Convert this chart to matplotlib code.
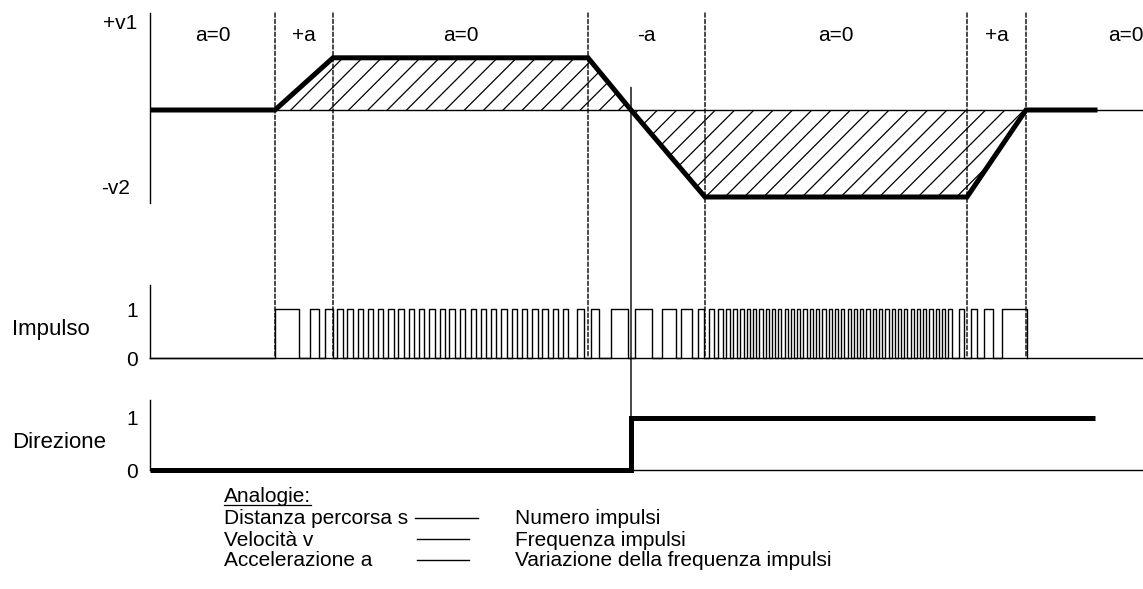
import numpy as np
import matplotlib.pyplot as plt
from matplotlib.patches import ConnectionPatch
from matplotlib.lines import Line2D
from matplotlib.collections import LineCollection

plt.rcParams['font.family'] = ['Liberation Sans', 'DejaVu Sans']

W, H = 1143, 589

# velocity profile (time axis in arbitrary units)
t_prof = [0, 125, 183, 438, 481, 555, 817, 876, 945]
v_prof = [0, 0, 0.6, 0.6, 0, -1.0, -1.0, 0, 0]

# boundaries between the acceleration phases
t_phase = [125, 183, 438, 555, 817, 876]
phase_labels = ['a=0', '+a', 'a=0', '-a', 'a=0', '+a', 'a=0']
t_reverse = 481

# pulse train: rising / falling edges
imp_on = [125, 159.7, 175,
          187.3, 197.3, 207.7, 218, 228, 238.3, 248.3, 258.7, 269, 279.3, 289.7,
          299.3, 310, 320.7, 330.7, 341, 351.3, 361.7, 372, 382.3, 392.3, 402.7, 413,
          427.3, 440.7, 460.7, 484.7, 511.7, 531, 548.3, 559.3, 568.3, 576, 583.3, 590,
          596.7, 603, 609.3, 615.6, 621.9, 628.2, 634.5, 640.8, 647.1, 653.4, 659.7,
          666, 672.3, 678.6, 684.9, 691.2, 697.5, 703.8, 710.1, 716.4, 722.7, 729,
          735.3, 741.6, 747.9, 754.2, 760.5, 766.8, 773.1, 779.4, 785.7, 792, 798.3,
          809.3, 820.7, 833.7, 852.3]
imp_off = [149, 168.7, 182.7,
           192.5, 202.5, 212.9, 223.2, 233.2, 243.5, 253.5, 263.9, 274.2, 284.5, 294.9,
           304.5, 315.2, 325.9, 335.9, 346.2, 356.5, 366.9, 377.2, 387.5, 397.5, 407.9, 418.2,
           434, 449.3, 477.7, 501.7, 525.7, 541.7, 554, 564.3, 573.3, 580, 587.3, 593.5,
           599.9, 606.2, 612.5, 618.8, 625.1, 631.4, 637.7, 644, 650.3, 656.6, 662.9,
           669.2, 675.5, 681.8, 688.1, 694.4, 700.7, 707, 713.3, 719.6, 725.9, 732.2,
           738.5, 744.8, 751.1, 757.4, 763.7, 770, 776.3, 782.6, 788.9, 795.2, 801.5,
           814, 826.7, 842.7, 876.7]

# direction signal
dir_t = [0, 481, 481, 945]
dir_v = [0, 0, 1, 1]

analogies_left = ['Distanza percorsa s', 'Velocità v', 'Accelerazione a']
analogies_right = ['Numero impulsi', 'Frequenza impulsi',
                   'Variazione della frequenza impulsi']

T_MAX = 993
THIN = 1.0
THICK = 3.6
HATCH_STEP = 19.3  # pixels between hatch lines

fig = plt.figure(figsize=(W / 100, H / 100), dpi=100)


def px_axes(x0, y0, x1, y1):
    # axes placed by pixel box (origin top-left)
    ax = fig.add_axes([x0 / W, 1 - y1 / H, (x1 - x0) / W, (y1 - y0) / H])
    ax.patch.set_alpha(0)
    for s in ['top', 'right']:
        ax.spines[s].set_visible(False)
    ax.spines['left'].set_linewidth(THIN)
    ax.spines['bottom'].set_linewidth(THIN)
    ax.set_xlim(0, T_MAX)
    ax.set_xticks([])
    ax.tick_params(axis='y', length=0, pad=9, labelsize=15)
    return ax


# --- velocity ---
ax_v = px_axes(150, 13, 1143, 203)
ax_v.set_ylim(-1.069, 1.115)
ax_v.spines['bottom'].set_visible(False)
ax_v.set_yticks([])
ax_v.axhline(0, color='k', lw=THIN)

# area under the profile, hatched with 45 degree strokes
area = ax_v.fill_between(t_prof, v_prof, 0, facecolor='none', linewidth=0)
px_x = (ax_v.get_xlim()[1] - ax_v.get_xlim()[0]) / ax_v.bbox.width
px_y = (ax_v.get_ylim()[1] - ax_v.get_ylim()[0]) / ax_v.bbox.height
slope = px_y / px_x
reach = 1.2 / slope
segs = [[(c - reach, -1.2), (c + reach, 1.2)]
        for c in np.arange(t_phase[0] - 100, t_phase[-1] + 150, HATCH_STEP * px_x)]
hatch = LineCollection(segs, colors='k', linewidths=0.9)
ax_v.add_collection(hatch)
hatch.set_clip_path(area.get_paths()[0], ax_v.transData)

ax_v.plot(t_prof, v_prof, color='k', lw=THICK, solid_joinstyle='miter')
ax_v.text(-13 / 993 * T_MAX, 1.0, '+v1', ha='right', va='center', fontsize=15)
ax_v.text(-20 / 993 * T_MAX, -0.9, '-v2', ha='right', va='center', fontsize=15)

bounds = [0] + t_phase + [1075]
for i, lab in enumerate(phase_labels):
    ax_v.text((bounds[i] + bounds[i + 1]) / 2, 0.86, lab, ha='center',
              va='center', fontsize=15)

# --- pulses ---
ax_i = px_axes(150, 285, 1143, 358)
ax_i.set_ylim(0, 1.49)
ax_i.set_yticks([0, 1], ['0', '1'])
xs, ys = [0], [0]
for on, off in zip(imp_on, imp_off):
    xs += [on, on, off, off]
    ys += [0, 1, 1, 0]
ax_i.plot(xs, ys, color='k', lw=THIN, clip_on=False)

# --- direction ---
ax_d = px_axes(150, 400, 1143, 470)
ax_d.set_ylim(0, 1.346)
ax_d.set_yticks([0, 1], ['0', '1'])
ax_d.plot(dir_t, dir_v, color='k', lw=THICK, clip_on=False,
          solid_joinstyle='miter', solid_capstyle='butt')

# dashed phase boundaries running down to the pulse baseline
for t in t_phase:
    fig.add_artist(ConnectionPatch(
        xyA=(t, 1), coordsA=ax_v.get_xaxis_transform(),
        xyB=(t, 0), coordsB=ax_i.transData,
        color='k', lw=THIN, linestyle=(0, (3, 1.6))))

# direction change marker
fig.add_artist(ConnectionPatch(
    xyA=(t_reverse, 0.26), coordsA=ax_v.transData,
    xyB=(t_reverse, 1), coordsB=ax_d.transData,
    color='k', lw=THIN))

fig.text(12 / W, 1 - 329 / H, 'Impulso', ha='left', va='center', fontsize=16)
fig.text(12 / W, 1 - 443 / H, 'Direzione', ha='left', va='center', fontsize=16)

# --- analogies ---
LEFT_X, RIGHT_X = 224, 515
title = fig.text(LEFT_X / W, 1 - 497 / H, 'Analogie:', ha='left', va='center',
                 fontsize=15)
fig.canvas.draw()
bb = title.get_window_extent().transformed(fig.transFigure.inverted())
fig.add_artist(Line2D([bb.x0, bb.x1], [bb.y0 + 2 / H, bb.y0 + 2 / H],
                      transform=fig.transFigure, color='k', lw=0.9))

row_y = [519, 540, 561]
dash_x = [(415, 478), (417, 469), (417, 469)]
for y, left, right, (d0, d1) in zip(row_y, analogies_left, analogies_right, dash_x):
    fig.text(LEFT_X / W, 1 - y / H, left, ha='left', va='center', fontsize=15)
    fig.text(RIGHT_X / W, 1 - y / H, right, ha='left', va='center', fontsize=15)
    fig.add_artist(Line2D([d0 / W, d1 / W], [1 - (y - 1) / H] * 2,
                          transform=fig.transFigure, color='k', lw=1.0))

fig.savefig('out.png', dpi=100)
